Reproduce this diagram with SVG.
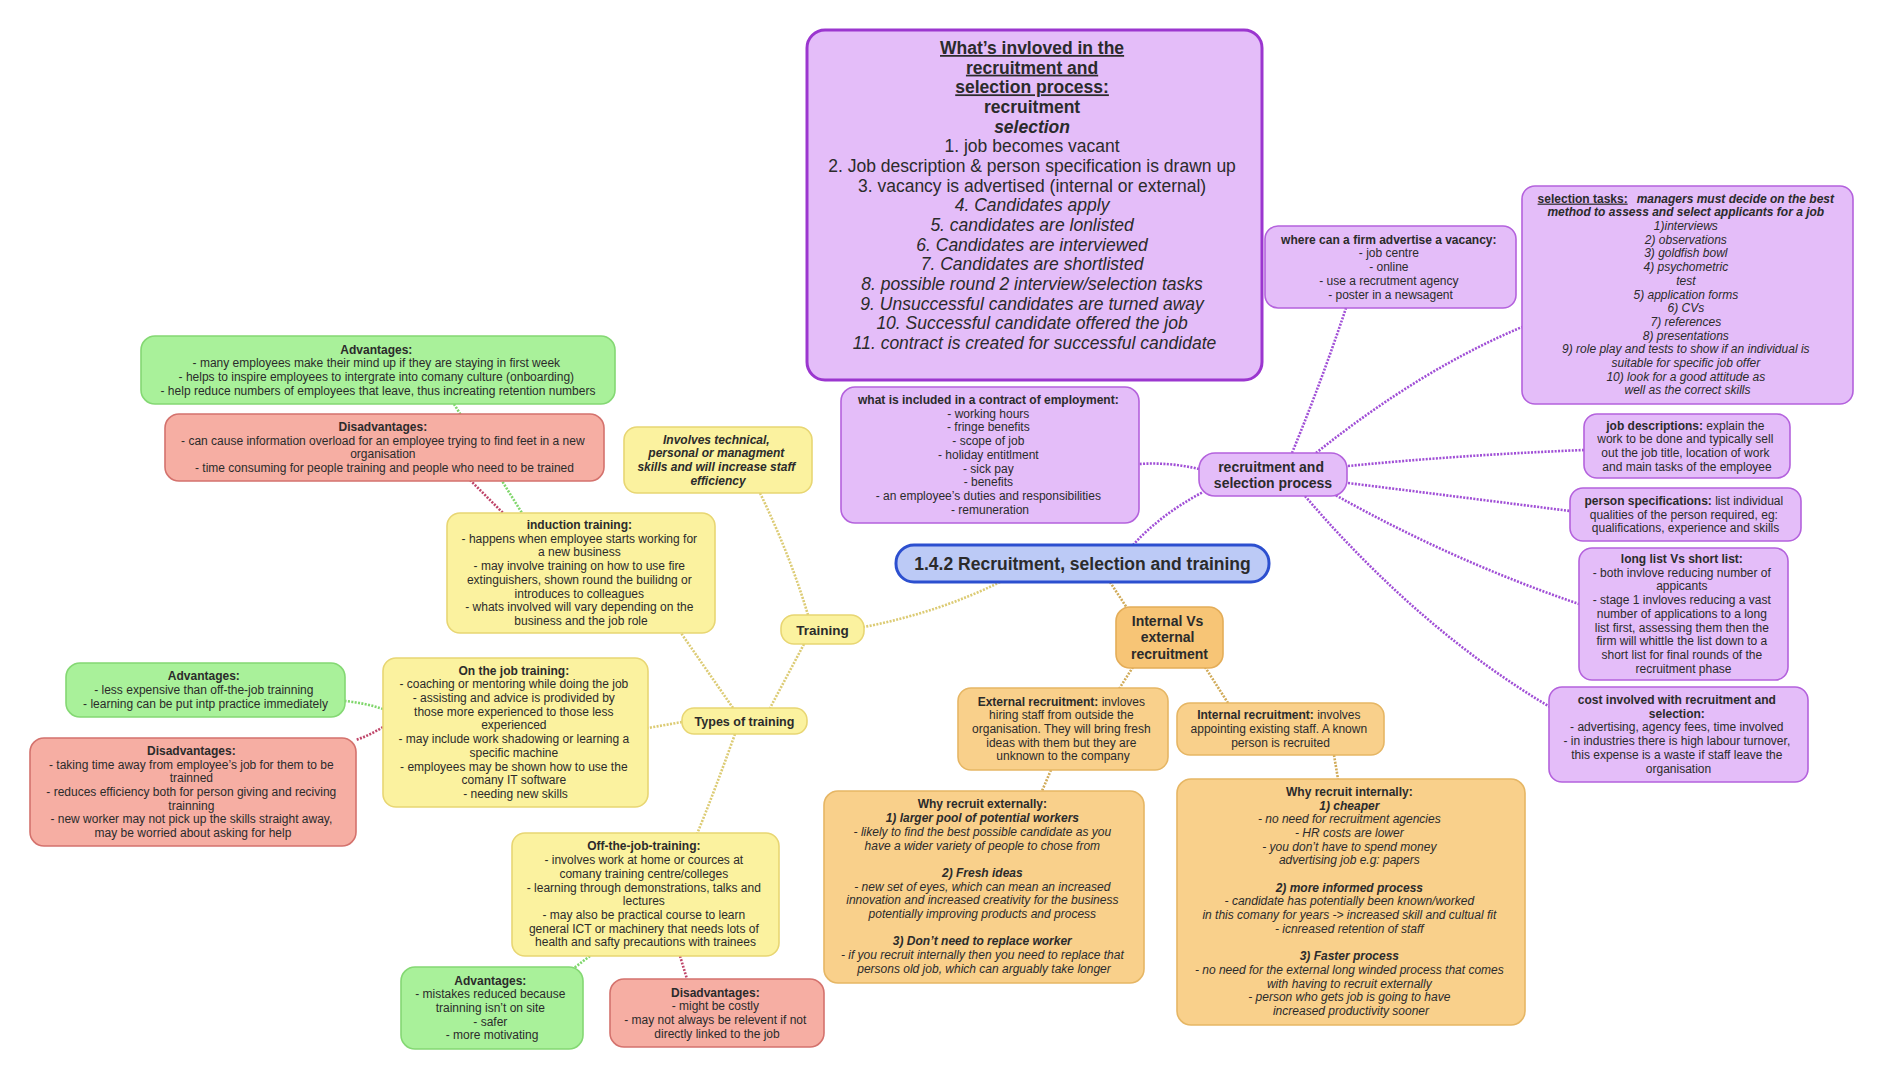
<svg xmlns="http://www.w3.org/2000/svg" width="1884" height="1080" viewBox="0 0 1884 1080">
<style>
text{font-family:"Liberation Sans",Arial,sans-serif;font-size:12px;fill:#2b2b2b;text-anchor:middle}
.b{font-weight:bold}
.i{font-style:italic}
.n{font-style:normal}
.u{text-decoration:underline}
.big{font-size:17.5px}
.f14{font-size:14px}
.f135{font-size:13.5px}
.f125{font-size:12.5px}
.pur{fill:#e4bdf9;stroke:#b462dd;stroke-width:1.6}
.main{fill:#e4bdf9;stroke:#9b36cf;stroke-width:3}
.ctr{fill:#bccaf6;stroke:#2c4fcf;stroke-width:3}
.yel{fill:#fbf29f;stroke:#e8d673;stroke-width:1.6}
.org{fill:#f9d08b;stroke:#e6b664;stroke-width:1.6}
.org2{fill:#f7c576;stroke:#e4ad58;stroke-width:1.6}
.grn{fill:#a9f19a;stroke:#84d873;stroke-width:1.6}
.red{fill:#f6aea3;stroke:#d4726d;stroke-width:1.6}
.c{fill:none;stroke-width:2.6;stroke-dasharray:2 1.4}
.cp{stroke:#a04fd6}
.cy{stroke:#dccb74}
.co{stroke:#d0aa58}
.cg{stroke:#7fd66b}
.cr{stroke:#bf466a}
</style>
<rect width="1884" height="1080" fill="#ffffff"/>
<g id="connectors">
<path class="c cp" d="M1133,545 Q1160,515 1203,492"/>
<path class="c cp" d="M1199,469 Q1170,462 1139,464"/>
<path class="c cp" d="M1292,453 Q1322,380 1346,308"/>
<path class="c cp" d="M1316,453 Q1420,370 1522,327"/>
<path class="c cp" d="M1348,466 Q1460,455 1584,450"/>
<path class="c cp" d="M1348,483 Q1460,497 1570,511"/>
<path class="c cp" d="M1330,492 Q1450,560 1579,604"/>
<path class="c cp" d="M1305,496 Q1420,630 1550,707"/>
<path class="c co" d="M1110,582 L1127,608"/>
<path class="c co" d="M1133,667 L1119,689"/>
<path class="c co" d="M1205,667 L1228,703"/>
<path class="c co" d="M1051,770 L1042,791"/>
<path class="c co" d="M1334,755 L1338,779"/>
<path class="c cy" d="M1000,582 Q940,612 864,627"/>
<path class="c cy" d="M808,615 Q790,555 760,493"/>
<path class="c cy" d="M804,644 L770,708"/>
<path class="c cy" d="M733,708 L681,633"/>
<path class="c cy" d="M682,722 L648,728"/>
<path class="c cy" d="M735,734 Q715,790 697,834"/>
<path class="c cg" d="M454,404 L522,513"/>
<path class="c cg" d="M383,709 Q365,703 345,701"/>
<path class="c cg" d="M590,956 L574,968"/>
<path class="c cr" d="M470,480 L503,513"/>
<path class="c cr" d="M383,727 Q370,735 356,740"/>
<path class="c cr" d="M680,956 L687,979"/>
</g>
<g id="process">
<rect class="main" x="807" y="30" width="455" height="350" rx="18"/>
<text class="big">
<tspan x="1034.5" y="54" class="b u">What’s invloved in the</tspan>
<tspan x="1034.5" y="73.7" class="b u">recruitment and</tspan>
<tspan x="1034.5" y="93.3" class="b u">selection process:</tspan>
<tspan x="1034.5" y="113" class="b">recruitment</tspan>
<tspan x="1034.5" y="132.7" class="b i">selection</tspan>
<tspan x="1034.5" y="152.3">1. job becomes vacant</tspan>
<tspan x="1034.5" y="172">2. Job description &amp; person specification is drawn up</tspan>
<tspan x="1034.5" y="191.7">3. vacancy is advertised (internal or external)</tspan>
<tspan x="1034.5" y="211.3" class="i">4. Candidates apply</tspan>
<tspan x="1034.5" y="231" class="i">5. candidates are lonlisted</tspan>
<tspan x="1034.5" y="250.7" class="i">6. Candidates are interviewed</tspan>
<tspan x="1034.5" y="270.3" class="i">7. Candidates are shortlisted</tspan>
<tspan x="1034.5" y="290" class="i">8. possible round 2 interview/selection tasks</tspan>
<tspan x="1034.5" y="309.7" class="i">9. Unsuccessful candidates are turned away</tspan>
<tspan x="1034.5" y="329.3" class="i">10. Successful candidate offered the job</tspan>
<tspan x="1034.5" y="349" class="i">11. contract is created for successful candidate</tspan>
</text>
</g>
<g id="advertise">
<rect class="pur" x="1265" y="226" width="251" height="82" rx="13"/>
<text>
<tspan x="1390.5" y="243.6" class="b">where can a firm advertise a vacancy:</tspan>
<tspan x="1390.5" y="257.4">- job centre</tspan>
<tspan x="1390.5" y="271.2">- online</tspan>
<tspan x="1390.5" y="285">- use a recrutment agency</tspan>
<tspan x="1390.5" y="298.8">- poster in a newsagent</tspan>
</text>
</g>
<g id="selection-tasks">
<rect class="pur" x="1522" y="186" width="331" height="218" rx="13"/>
<text class="i">
<tspan x="1687.5" y="202.6"><tspan class="b u n">selection tasks:</tspan><tspan class="b" dx="9">managers must decide on the best</tspan></tspan>
<tspan x="1687.5" y="216.3" class="b">method to assess and select applicants for a job</tspan>
<tspan x="1687.5" y="230">1)interviews</tspan>
<tspan x="1687.5" y="243.7">2) observations</tspan>
<tspan x="1687.5" y="257.4">3) goldfish bowl</tspan>
<tspan x="1687.5" y="271.1">4) psychometric</tspan>
<tspan x="1687.5" y="284.8">test</tspan>
<tspan x="1687.5" y="298.5">5) application forms</tspan>
<tspan x="1687.5" y="312.2">6) CVs</tspan>
<tspan x="1687.5" y="325.9">7) references</tspan>
<tspan x="1687.5" y="339.6">8) presentations</tspan>
<tspan x="1687.5" y="353.3">9) role play and tests to show if an individual is</tspan>
<tspan x="1687.5" y="367">suitable for specific job offer</tspan>
<tspan x="1687.5" y="380.7">10) look for a good attitude as</tspan>
<tspan x="1687.5" y="394.4">well as the correct skills</tspan>
</text>
</g>
<g id="contract">
<rect class="pur" x="841" y="387" width="298" height="136" rx="14"/>
<text>
<tspan x="990" y="404" class="b">what is included in a contract of employment:</tspan>
<tspan x="990" y="417.7">- working hours</tspan>
<tspan x="990" y="431.4">- fringe benefits</tspan>
<tspan x="990" y="445.1">- scope of job</tspan>
<tspan x="990" y="458.8">- holiday entitlment</tspan>
<tspan x="990" y="472.5">- sick pay</tspan>
<tspan x="990" y="486.2">- benefits</tspan>
<tspan x="990" y="499.9">- an employee’s duties and responsibilities</tspan>
<tspan x="990" y="513.6">- remuneration</tspan>
</text>
</g>
<g id="recruitment-selection">
<rect class="pur" x="1199" y="453" width="148" height="43" rx="16" stroke-width="2.2"/>
<text class="b f14">
<tspan x="1273" y="472">recruitment and</tspan>
<tspan x="1273" y="488">selection process</tspan>
</text>
</g>
<g id="job-descriptions">
<rect class="pur" x="1584" y="414" width="206" height="64" rx="13"/>
<text>
<tspan x="1687" y="429.5"><tspan class="b">job descriptions:</tspan> explain the</tspan>
<tspan x="1687" y="443.2">work to be done and typically sell</tspan>
<tspan x="1687" y="456.9">out the job title, location of work</tspan>
<tspan x="1687" y="470.6">and main tasks of the employee</tspan>
</text>
</g>
<g id="person-specifications">
<rect class="pur" x="1570" y="488" width="231" height="53" rx="13"/>
<text>
<tspan x="1685.5" y="505"><tspan class="b">person specifications:</tspan> list individual</tspan>
<tspan x="1685.5" y="518.7">qualities of the person required, eg:</tspan>
<tspan x="1685.5" y="532.4">qualifications, experience and skills</tspan>
</text>
</g>
<g id="long-short-list">
<rect class="pur" x="1579" y="548" width="209" height="132" rx="13"/>
<text>
<tspan x="1683.5" y="563" class="b">long list Vs short list:</tspan>
<tspan x="1683.5" y="576.7">- both invlove reducing number of</tspan>
<tspan x="1683.5" y="590.4">appicants</tspan>
<tspan x="1683.5" y="604.1">- stage 1 invloves reducing a vast</tspan>
<tspan x="1683.5" y="617.8">number of applications to a long</tspan>
<tspan x="1683.5" y="631.5">list first, assessing them then the</tspan>
<tspan x="1683.5" y="645.2">firm will whittle the list down to a</tspan>
<tspan x="1683.5" y="658.9">short list for final rounds of the</tspan>
<tspan x="1683.5" y="672.6">recruitment phase</tspan>
</text>
</g>
<g id="cost">
<rect class="pur" x="1549" y="687" width="259" height="95" rx="13"/>
<text>
<tspan x="1678.5" y="704" class="b">cost involved with recruitment and</tspan>
<tspan x="1678.5" y="717.7" class="b">selection:</tspan>
<tspan x="1678.5" y="731.4">- advertising, agency fees, time involved</tspan>
<tspan x="1678.5" y="745.1">- in industries there is high labour turnover,</tspan>
<tspan x="1678.5" y="758.8">this expense is a waste if staff leave the</tspan>
<tspan x="1678.5" y="772.5">organisation</tspan>
</text>
</g>
<g id="central">
<rect class="ctr" x="896" y="545" width="373" height="37" rx="18"/>
<text class="b big" x="1082.5" y="569.5">1.4.2 Recruitment, selection and training</text>
</g>
<g id="internal-vs-external">
<rect class="org2" x="1116" y="607" width="107" height="61" rx="14" stroke-width="2"/>
<text class="b f14">
<tspan x="1169.5" y="626">Internal Vs</tspan>
<tspan x="1169.5" y="642.3">external</tspan>
<tspan x="1169.5" y="658.6">recruitment</tspan>
</text>
</g>
<g id="external-recruitment">
<rect class="org" x="958" y="688" width="210" height="82" rx="13"/>
<text>
<tspan x="1063" y="705.6"><tspan class="b">External recruitment:</tspan> invloves</tspan>
<tspan x="1063" y="719.3">hiring staff from outside the</tspan>
<tspan x="1063" y="733">organisation. They will bring fresh</tspan>
<tspan x="1063" y="746.7">ideas with them but they are</tspan>
<tspan x="1063" y="760.4">unknown to the company</tspan>
</text>
</g>
<g id="internal-recruitment">
<rect class="org" x="1177" y="703" width="207" height="52" rx="13"/>
<text>
<tspan x="1280.5" y="719.4"><tspan class="b">Internal recruitment:</tspan> involves</tspan>
<tspan x="1280.5" y="733.1">appointing existing staff. A known</tspan>
<tspan x="1280.5" y="746.8">person is recruited</tspan>
</text>
</g>
<g id="why-externally">
<rect class="org" x="824" y="791" width="320" height="192" rx="14"/>
<text class="i">
<tspan x="984" y="808.4" class="b n">Why recruit externally:</tspan>
<tspan x="984" y="822.1" class="b">1) larger pool of potential workers</tspan>
<tspan x="984" y="835.8">- likely to find the best possible candidate as you</tspan>
<tspan x="984" y="849.5">have a wider variety of people to chose from</tspan>
<tspan x="984" y="876.9" class="b">2) Fresh ideas</tspan>
<tspan x="984" y="890.6">- new set of eyes, which can mean an increased</tspan>
<tspan x="984" y="904.3">innovation and  increased creativity for the business</tspan>
<tspan x="984" y="918">potentially improving products and process</tspan>
<tspan x="984" y="945.4" class="b">3) Don’t need to replace worker</tspan>
<tspan x="984" y="959.1">- if you recruit internally then you need to replace that</tspan>
<tspan x="984" y="972.8">persons old job, which can arguably take longer</tspan>
</text>
</g>
<g id="why-internally">
<rect class="org" x="1177" y="779" width="348" height="246" rx="14"/>
<text class="i">
<tspan x="1351" y="795.8" class="b n">Why recruit internally:</tspan>
<tspan x="1351" y="809.5" class="b">1) cheaper</tspan>
<tspan x="1351" y="823.2">- no need for recruitment agencies</tspan>
<tspan x="1351" y="836.9">- HR costs are lower</tspan>
<tspan x="1351" y="850.6">- you don’t have to spend money</tspan>
<tspan x="1351" y="864.3">advertising job e.g: papers</tspan>
<tspan x="1351" y="891.7" class="b">2) more informed process</tspan>
<tspan x="1351" y="905.4">- candidate has potentially been known/worked</tspan>
<tspan x="1351" y="919.1">in this comany for years -&gt; increased skill and cultual fit</tspan>
<tspan x="1351" y="932.8">- icnreased retention of staff</tspan>
<tspan x="1351" y="960.2" class="b">3) Faster process</tspan>
<tspan x="1351" y="973.9">- no need for the external long winded process that comes</tspan>
<tspan x="1351" y="987.6">with having to recruit externally</tspan>
<tspan x="1351" y="1001.3">- person who gets job is going to have</tspan>
<tspan x="1351" y="1015">increased productivity sooner</tspan>
</text>
</g>
<g id="training">
<rect class="yel" x="781" y="615" width="83" height="29" rx="13" stroke-width="2"/>
<text class="b f135" x="822.5" y="634.5">Training</text>
</g>
<g id="types-of-training">
<rect class="yel" x="682" y="708" width="125" height="26" rx="12" stroke-width="2"/>
<text class="b f125" x="744.5" y="725.5">Types of training</text>
</g>
<g id="involves">
<rect class="yel" x="624" y="427" width="188" height="66" rx="13"/>
<text class="b i">
<tspan x="718" y="443.5">Involves technical,</tspan>
<tspan x="718" y="457.2">personal or managment</tspan>
<tspan x="718" y="470.9">skills and will increase staff</tspan>
<tspan x="718" y="484.6">efficiency</tspan>
</text>
</g>
<g id="induction">
<rect class="yel" x="447" y="513" width="268" height="120" rx="13"/>
<text>
<tspan x="581" y="529" class="b">induction training:</tspan>
<tspan x="581" y="542.7">- happens when employee starts working for</tspan>
<tspan x="581" y="556.4">a new business</tspan>
<tspan x="581" y="570.1">- may involve training on how to use fire</tspan>
<tspan x="581" y="583.8">extinguishers, shown round the builidng or</tspan>
<tspan x="581" y="597.5">introduces to colleagues</tspan>
<tspan x="581" y="611.2">- whats involved will vary depending on the</tspan>
<tspan x="581" y="624.9">business and the job role</tspan>
</text>
</g>
<g id="induction-advantages">
<rect class="grn" x="141" y="336" width="474" height="68" rx="14"/>
<text>
<tspan x="378" y="353.5" class="b">Advantages:</tspan>
<tspan x="378" y="367.2">- many employees make their mind up if they are staying in first week</tspan>
<tspan x="378" y="380.9">- helps to inspire employees to intergrate into comany culture (onboarding)</tspan>
<tspan x="378" y="394.6">- help reduce numbers of employees that leave, thus increating retention numbers</tspan>
</text>
</g>
<g id="induction-disadvantages">
<rect class="red" x="165" y="414" width="439" height="67" rx="14"/>
<text>
<tspan x="384.5" y="431" class="b">Disadvantages:</tspan>
<tspan x="384.5" y="444.7">- can cause information overload for an employee trying to find feet in a new</tspan>
<tspan x="384.5" y="458.4">organisation</tspan>
<tspan x="384.5" y="472.1">- time consuming for people training and people who need to be trained</tspan>
</text>
</g>
<g id="on-the-job">
<rect class="yel" x="383" y="658" width="265" height="149" rx="13"/>
<text>
<tspan x="515.5" y="674.6" class="b">On the job training:</tspan>
<tspan x="515.5" y="688.3">- coaching or mentoring while doing the job</tspan>
<tspan x="515.5" y="702">- assisting and advice is prodivided by</tspan>
<tspan x="515.5" y="715.7">those more experienced to those less</tspan>
<tspan x="515.5" y="729.4">experienced</tspan>
<tspan x="515.5" y="743.1">- may include work shadowing or learning a</tspan>
<tspan x="515.5" y="756.8">specific machine</tspan>
<tspan x="515.5" y="770.5">- employees may be shown how to use the</tspan>
<tspan x="515.5" y="784.2">comany IT software</tspan>
<tspan x="515.5" y="797.9">- needing new skills</tspan>
</text>
</g>
<g id="on-the-job-advantages">
<rect class="grn" x="66" y="663" width="279" height="54" rx="14"/>
<text>
<tspan x="205.5" y="680.4" class="b">Advantages:</tspan>
<tspan x="205.5" y="694.1">- less expensive than off-the-job trainning</tspan>
<tspan x="205.5" y="707.8">- learning can be put intp practice immediately</tspan>
</text>
</g>
<g id="on-the-job-disadvantages">
<rect class="red" x="30" y="738" width="326" height="108" rx="14"/>
<text>
<tspan x="193" y="754.8" class="b">Disadvantages:</tspan>
<tspan x="193" y="768.5">- taking time away from employee’s job for them to be</tspan>
<tspan x="193" y="782.2">trainned</tspan>
<tspan x="193" y="795.9">- reduces efficiency both for person giving and reciving</tspan>
<tspan x="193" y="809.6">trainning</tspan>
<tspan x="193" y="823.3">- new worker may not pick up the skills straight away,</tspan>
<tspan x="193" y="837">may be worried about asking for help</tspan>
</text>
</g>
<g id="off-the-job">
<rect class="yel" x="512" y="833" width="267" height="123" rx="13"/>
<text>
<tspan x="645.5" y="850.4" class="b">Off-the-job-training:</tspan>
<tspan x="645.5" y="864.1">- involves work at home or cources at</tspan>
<tspan x="645.5" y="877.8">comany training centre/colleges</tspan>
<tspan x="645.5" y="891.5">- learning through demonstrations, talks and</tspan>
<tspan x="645.5" y="905.2">lectures</tspan>
<tspan x="645.5" y="918.9">- may also be practical course to learn</tspan>
<tspan x="645.5" y="932.6">general ICT or machinery that needs lots of</tspan>
<tspan x="645.5" y="946.3">health and safty precautions with trainees</tspan>
</text>
</g>
<g id="off-the-job-advantages">
<rect class="grn" x="401" y="967" width="182" height="82" rx="14"/>
<text>
<tspan x="492" y="984.6" class="b">Advantages:</tspan>
<tspan x="492" y="998.3">- mistakes reduced because</tspan>
<tspan x="492" y="1012">trainning isn’t on site</tspan>
<tspan x="492" y="1025.7">- safer</tspan>
<tspan x="492" y="1039.4">- more motivating</tspan>
</text>
</g>
<g id="off-the-job-disadvantages">
<rect class="red" x="610" y="979" width="214" height="68" rx="14"/>
<text>
<tspan x="717" y="996.5" class="b">Disadvantages:</tspan>
<tspan x="717" y="1010.2">- might be costly</tspan>
<tspan x="717" y="1023.9">- may not always be relevent if not</tspan>
<tspan x="717" y="1037.6">directly linked to the job</tspan>
</text>
</g>
</svg>
